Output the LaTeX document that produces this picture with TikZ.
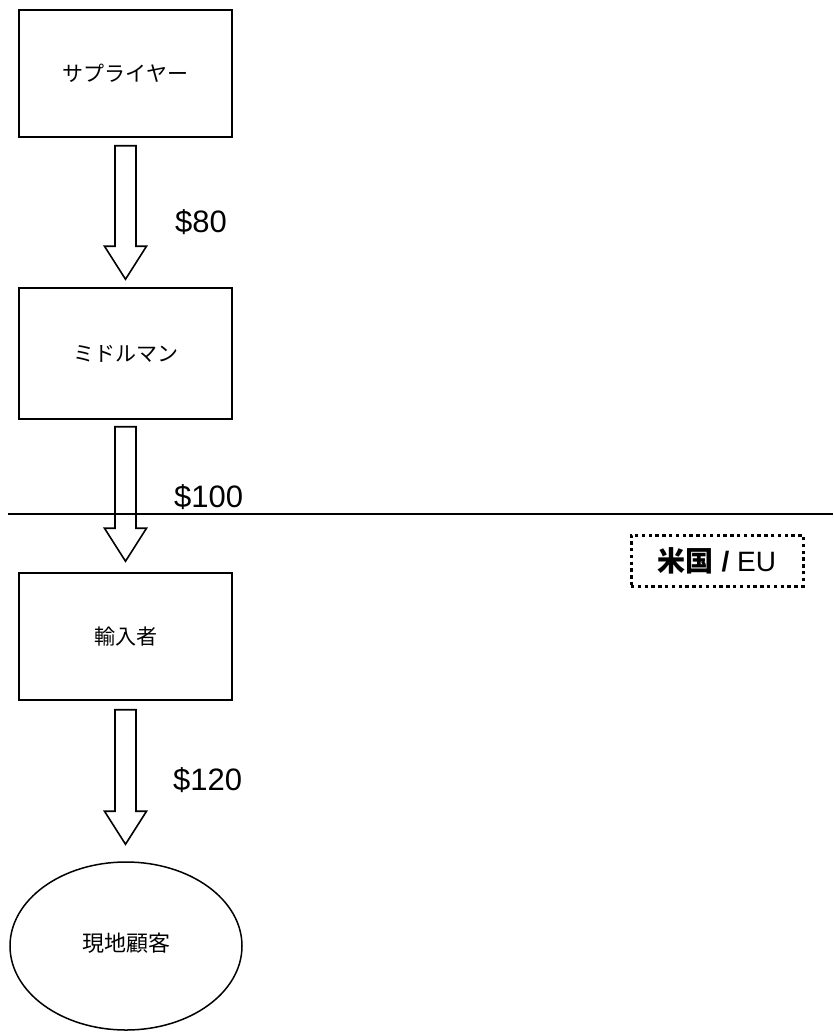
\documentclass[tikz,border=0pt]{standalone}
\usepackage{fontspec}
\setmainfont{Liberation Sans}
\newfontfamily\jp{Noto Sans CJK JP}
\usetikzlibrary{calc,shapes.geometric}
\begin{document}
\begin{tikzpicture}[x=1pt,y=-1pt,
  boxst/.style={draw,line width=1.5pt,minimum width=213pt,minimum height=127pt,inner sep=0pt,font=\jp\fontsize{21}{24}\selectfont},
  fat/.style={draw,line width=1.6pt,fill=white,line join=miter},
  price/.style={font=\fontsize{31}{36}\selectfont,anchor=west,inner sep=0pt},
  dotbox/.style={draw,line width=3pt,dash pattern=on 3.4pt off 3.4pt,minimum width=172pt,minimum height=51pt,inner sep=0pt}]
\useasboundingbox (0,0) rectangle (833,1032);
\node[boxst] (sup) at (125.5,73.5) {\raisebox{-5pt}{サプライヤー}};
\node[boxst,minimum height=131pt] (mid) at (125.5,353.5) {\raisebox{-5pt}{ミドルマン}};
\node[boxst] (imp) at (125.5,636.5) {\raisebox{-5pt}{輸入者}};
\node[draw,ellipse,line width=1.5pt,minimum width=232pt,minimum height=168pt,inner sep=0pt,font=\jp\fontsize{22}{24}\selectfont] (cus) at (126,946) {\raisebox{8pt}{現地顧客}};
% block arrows
\coordinate (a1s) at ($(sup.south)+(0,8)$);
\coordinate (a1e) at ($(mid.north)+(0,-8)$);
\coordinate (a2s) at ($(mid.south)+(0,7)$);
\coordinate (a2e) at ($(imp.north)+(0,-11)$);
\coordinate (a3s) at ($(imp.south)+(0,9)$);
\coordinate (a3e) at ($(cus.north)+(0,-17)$);
\foreach \s/\e in {a1s/a1e,a2s/a2e,a3s/a3e}{
  \draw[fat] let \p1=(\s), \p2=(\e) in
    (\x1-10.5pt,\y1) -- (\x1+10.5pt,\y1) -- (\x1+10.5pt,\y2+33pt) -- (\x1+21pt,\y2+33pt)
    -- (\x1,\y2) -- (\x1-21pt,\y2+33pt) -- (\x1-10.5pt,\y2+33pt) -- cycle;
}
\node[price] (p1) at (175,222) {\$80};
\node[price] (p2) at (174,497) {\$100};
\node[price] (p3) at (173,780) {\$120};
% border line
\coordinate (l1) at (8,514);
\coordinate (l2) at (833,514);
\draw[line width=1.6pt] (l1) -- (l2);
\node[dotbox,font=\fontsize{28}{30}\selectfont] (reg) at (717,560.5) {{\jp\bfseries 米国} {\bfseries /} EU};
\end{tikzpicture}
\end{document}
